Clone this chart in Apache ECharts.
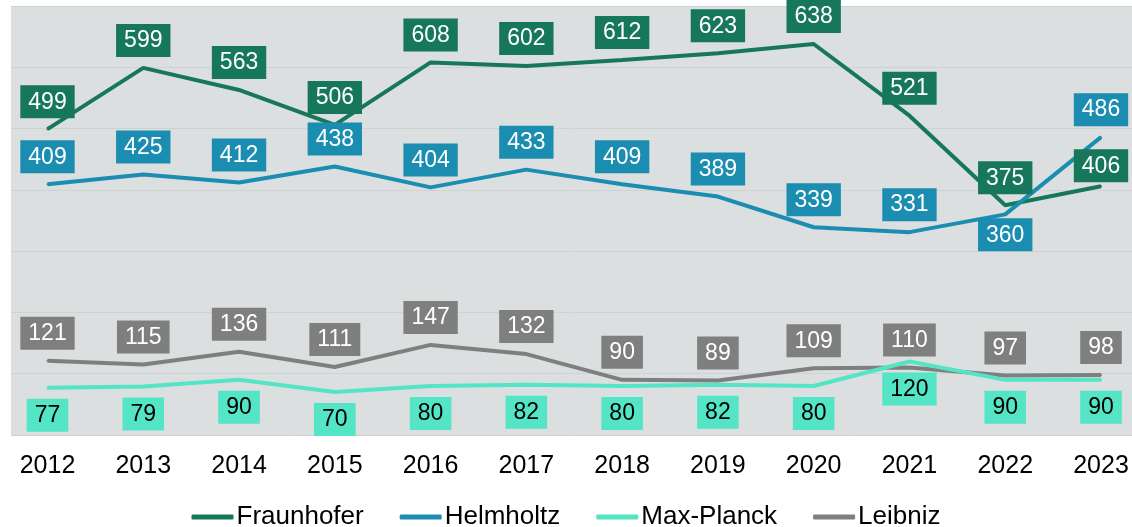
<!DOCTYPE html>
<html>
<head>
<meta charset="utf-8">
<title>Forschungsorganisationen</title>
<script src="https://cdn.jsdelivr.net/npm/echarts@6/dist/echarts.min.js"></script>
<style>
  html, body { margin: 0; padding: 0; background: #fff; }
</style>
</head>
<body>
<div id="main" style="width: 1132px; height: 527px;"></div>
<script type="text/javascript">
    // Werte je Jahr
    var years = ['2012', '2013', '2014', '2015', '2016', '2017', '2018', '2019', '2020', '2021', '2022', '2023'];
    var fraunhofer = [499, 599, 563, 506, 608, 602, 612, 623, 638, 521, 375, 406];
    var helmholtz = [409, 425, 412, 438, 404, 433, 409, 389, 339, 331, 360, 486];
    var maxPlanck = [77, 79, 90, 70, 80, 82, 80, 82, 80, 120, 90, 90];
    var leibniz = [121, 115, 136, 111, 147, 132, 90, 89, 109, 110, 97, 98];

    var myChart = echarts.init(document.getElementById('main'));

    function boxLabel(pos, bg, fg) {
        return {
            show: true,
            position: pos,
            distance: 10,
            backgroundColor: bg,
            color: fg,
            fontFamily: 'Liberation Sans',
            fontSize: 23,
            lineHeight: 26,
            padding: [4, 8, 3, 8]
        };
    }

    function lineSeries(name, values, color, pos, fg, special) {
        return {
            name: name,
            type: 'line',
            xAxisIndex: 1,
            yAxisIndex: 1,
            symbol: 'circle',
            symbolSize: 2,
            itemStyle: { color: color },
            lineStyle: { color: color, width: 4 },
            label: boxLabel(pos, color, fg),
            data: values.map(function (v, i) {
                if (special && special[i]) {
                    return { value: v, label: special[i] };
                }
                return v;
            })
        };
    }

    var option = {
        animation: false,
        grid: [
            { left: 11, right: 0, top: 6, bottom: 92, show: true, backgroundColor: '#dcdfdf', borderWidth: 0 },
            { left: 47.5, right: 31, top: 6, bottom: 92 }
        ],
        legend: {
            data: ['Fraunhofer', 'Helmholtz', 'Max-Planck', 'Leibniz'],
            top: 499,
            left: 'center',
            icon: 'roundRect',
            itemWidth: 42,
            itemHeight: 5,
            itemGap: 36,
            textStyle: { fontFamily: 'Liberation Sans', fontSize: 26, color: '#000', padding: [0, 0, 0, -2] }
        },
        xAxis: [
            { type: 'category', gridIndex: 0, data: years, show: false },
            {
                type: 'category', gridIndex: 1, data: years, boundaryGap: false,
                axisLine: { show: false },
                axisTick: { show: false },
                axisLabel: { fontFamily: 'Liberation Sans', fontSize: 25, color: '#000', margin: 19 }
            }
        ],
        yAxis: [
            {
                type: 'value', gridIndex: 0, min: 0, max: 700, interval: 100,
                axisLabel: { show: false },
                axisLine: { show: false },
                axisTick: { show: false },
                splitLine: { lineStyle: { color: '#cfd2d2', width: 1 } }
            },
            { type: 'value', gridIndex: 1, min: 0, max: 700, interval: 100, show: false, splitLine: { show: false } }
        ],
        series: [
            lineSeries('Fraunhofer', fraunhofer, '#16775b', 'top', '#fff', { 11: { distance: 3 } }),
            lineSeries('Helmholtz', helmholtz, '#1b8db0', 'top', '#fff', { 10: { position: 'bottom', distance: 3 } }),
            lineSeries('Leibniz', leibniz, '#7f7f7f', 'top', '#fff'),
            lineSeries('Max-Planck', maxPlanck, '#53e5c5', 'bottom', '#000')
        ]
    };

    myChart.setOption(option);
</script>
</body>
</html>
